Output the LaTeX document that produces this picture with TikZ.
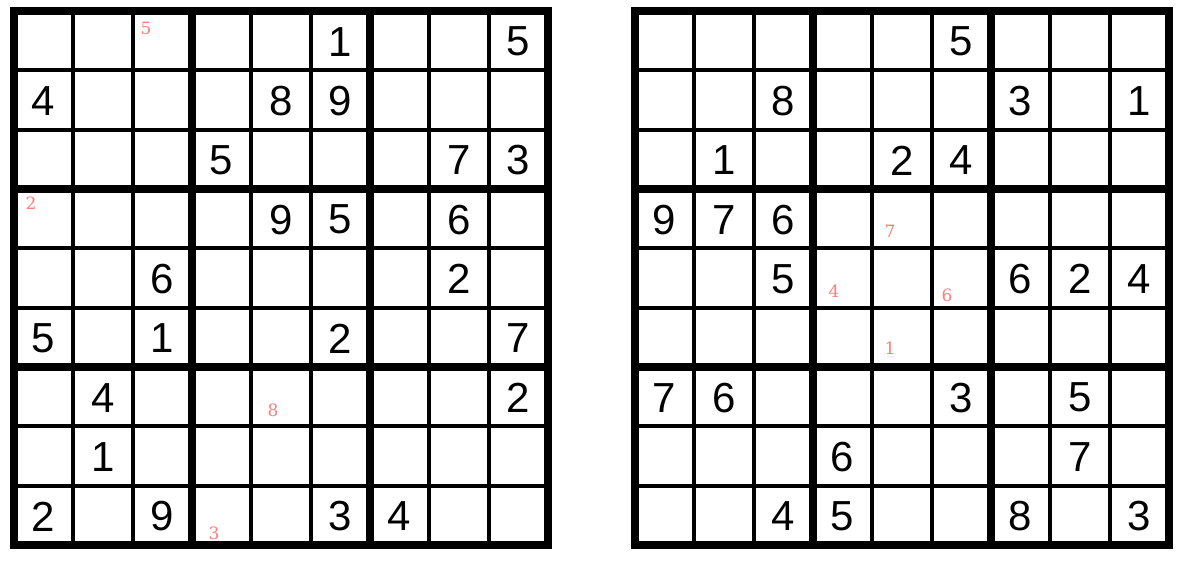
\documentclass[tikz,border=0pt]{standalone}
\usepackage{fontspec}
\setmainfont{Liberation Sans}
\newfontfamily\hintfont{DejaVu Serif}
\definecolor{hintred}{RGB}{255,125,125}
\begin{document}
\begin{tikzpicture}[x=0.5pt,y=-0.5pt,
  thinline/.style={line width=2pt,black},
  thickline/.style={line width=4.25pt,black},
  given/.style={inner sep=0pt,font=\fontsize{21}{21}\selectfont,yshift=-0.5pt},
  hint/.style={inner sep=0pt,text=hintred,font=\hintfont\fontsize{8.5}{8.5}\selectfont}]
\useasboundingbox[fill=white] (0,0) rectangle (1189,563);
\def\cs{59.3333}
\foreach \ox/\nm in {14/L,635/R}{
  \foreach \i in {1,2,4,5,7,8}{
    \draw[thinline] ({\ox+\cs*\i},11) -- ({\ox+\cs*\i},545);
    \draw[thinline] (\ox,{11+\cs*\i}) -- ({\ox+534},{11+\cs*\i});
  }
  \foreach \i in {3,6}{
    \draw[thickline] ({\ox+\cs*\i},11) -- ({\ox+\cs*\i},545);
    \draw[thickline] (\ox,{11+\cs*\i}) -- ({\ox+534},{11+\cs*\i});
  }
  \draw[thickline] (\ox,11) rectangle ({\ox+534},545);
}
% left grid givens
\foreach \r/\c/\d in {1/6/1,1/9/5,2/1/4,2/5/8,2/6/9,3/4/5,3/8/7,3/9/3,
  4/5/9,4/6/5,4/8/6,5/3/6,5/8/2,6/1/5,6/3/1,6/6/2,6/9/7,7/2/4,7/9/2,
  8/2/1,9/1/2,9/3/9,9/6/3,9/7/4}
  \node[given] (L-\r-\c) at ({14+\cs*(\c-0.5)},{11+\cs*(\r-0.5)}) {\d};
% right grid givens
\foreach \r/\c/\d in {1/6/5,2/3/8,2/7/3,2/9/1,3/2/1,3/5/2,3/6/4,
  4/1/9,4/2/7,4/3/6,5/3/5,5/7/6,5/8/2,5/9/4,7/1/7,7/2/6,7/6/3,7/8/5,
  8/4/6,8/8/7,9/3/4,9/4/5,9/7/8,9/9/3}
  \node[given] (R-\r-\c) at ({635+\cs*(\c-0.5)},{11+\cs*(\r-0.5)}) {\d};
% hints
\node[hint] (hL1) at (146,28) {5};
\node[hint] (hL2) at (31,203) {2};
\node[hint] (hL3) at (273,410) {8};
\node[hint] (hL4) at (214,533) {3};
\node[hint] (hR1) at (890,231) {7};
\node[hint] (hR2) at (834,291) {4};
\node[hint] (hR3) at (947,295) {6};
\node[hint] (hR4) at (890,348) {1};
\end{tikzpicture}
\end{document}
